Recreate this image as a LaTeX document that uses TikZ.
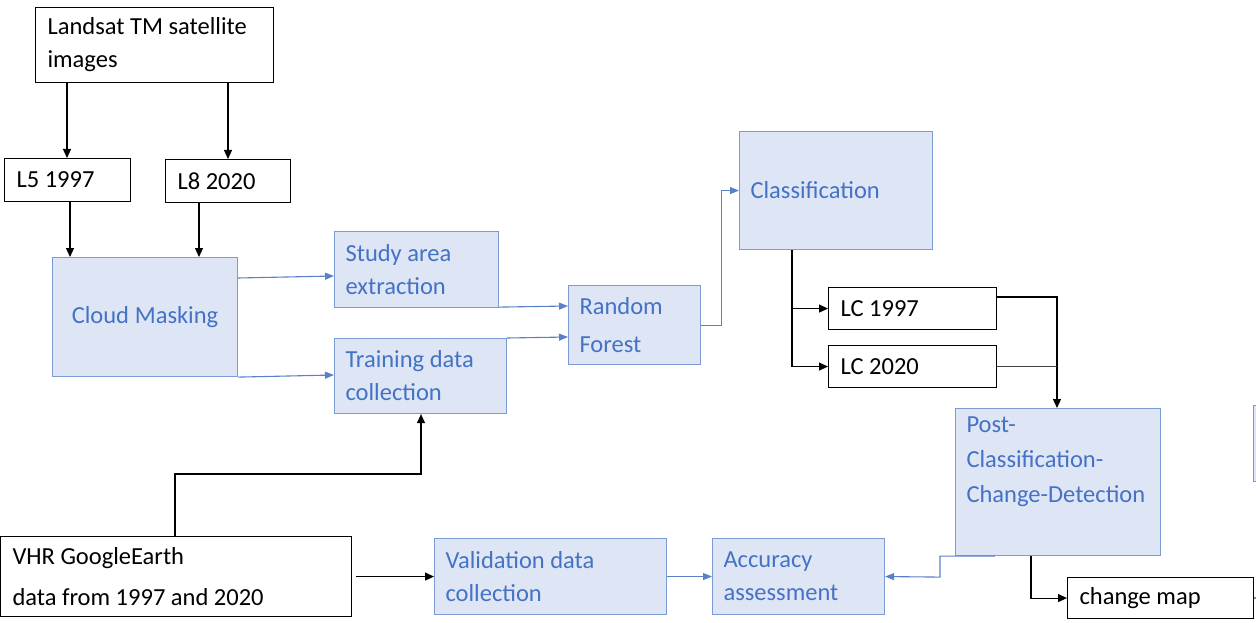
\documentclass[tikz,border=0pt]{standalone}
\usepackage{fontspec}
\setmainfont{Carlito}
\usetikzlibrary{arrows.meta,calc}
\definecolor{bfill}{HTML}{DEE6F5}
\definecolor{bline}{HTML}{7C9BD3}
\definecolor{btext}{HTML}{4472C4}
\definecolor{barrow}{HTML}{5A80C8}
\newcommand{\boxfont}{\fontsize{24.5}{33}\selectfont}
\tikzset{
  tight/.style={execute at begin node={\spaceskip=0.226em plus 0.05em minus 0.05em\relax\xspaceskip=0.226em\relax}},
  wbox/.style={draw=black, line width=1.1pt, fill=white, anchor=north west, inner xsep=12pt, inner ysep=0pt, align=left, font=\boxfont, tight},
  bbox/.style={draw=bline, line width=1.1pt, fill=bfill, text=btext, anchor=north west, inner xsep=11pt, inner ysep=0pt, align=left, font=\boxfont, tight},
  karr/.style={draw=black, line width=1.1pt, -{Triangle[length=9pt,width=8pt]}},
  kline/.style={draw=black!75, line width=1.1pt},
  barr/.style={draw=barrow, line width=1.1pt, -{Triangle[length=9pt,width=7pt]}},
}
\begin{document}
\begin{tikzpicture}[x=1pt,y=-1pt]
\useasboundingbox (0,0) rectangle (1256,623);
\clip (0,0) rectangle (1256,623);
% boxes
\node[wbox, minimum width=238pt, minimum height=75pt, text width=214pt] (land) at (35,7) {Landsat TM satellite\\images};
\node[wbox, minimum width=126pt, minimum height=43pt, text width=102pt] (l5) at (4,158) {L5 1997};
\node[wbox, minimum width=125pt, minimum height=43pt, text width=101pt] (l8) at (165,159) {L8 2020};
\node[bbox, minimum width=185pt, minimum height=119pt, text width=163pt, align=center] (cloud) at (52,257) {Cloud Masking};
\node[bbox, minimum width=164pt, minimum height=76pt, text width=142pt] (study) at (334,231) {Study area\\extraction};
\node[bbox, minimum width=172pt, minimum height=75pt, text width=150pt] (train) at (334,338) {Training data\\collection};
\node[bbox, minimum width=132pt, minimum height=79pt, text width=110pt] (rf) at (568,285) {Random\\[5pt]Forest};
\node[bbox, minimum width=193pt, minimum height=118pt, text width=171pt] (cls) at (739,131) {Classification};
\node[wbox, minimum width=168pt, minimum height=42pt, text width=144pt] (lc97) at (828,287) {LC 1997};
\node[wbox, minimum width=168pt, minimum height=42pt, text width=144pt] (lc20) at (828,345) {LC 2020};
\node[bbox, minimum width=205pt, minimum height=147pt, text width=183pt] (pcd) at (955,408) {Post-\\[2pt]Classification-\\[2pt]Change-Detection\\[2pt]\strut};
\node[wbox, minimum width=186pt, minimum height=41pt, text width=162pt] (cmap) at (1067,577) {change map};
\node[bbox, minimum width=172pt, minimum height=76pt, text width=150pt] (acc) at (712,538) {Accuracy\\assessment};
\node[bbox, minimum width=232pt, minimum height=76pt, text width=210pt] (val) at (434,538) {Validation data\\collection};
\node[wbox, minimum width=351pt, minimum height=80pt, text width=327pt] (vhr) at (0,536) {VHR GoogleEarth\\[8pt]data from 1997 and 2020};
\node[bbox, minimum width=60pt, minimum height=76pt] (side) at (1253,405) {};
\coordinate (cmapout) at (1270,597);
% connectors
\draw[karr] ($(land.south west)+(32,0)$) -- ($(l5.north west)+(63,0)$);
\draw[karr] ($(land.south west)+(193,0)$) -- ($(l8.north west)+(63,0)$);
\draw[karr] ($(l5.south west)+(66,0)$) -- ($(cloud.north west)+(18,0)$);
\draw[karr] ($(l8.south west)+(34,0)$) -- ($(cloud.north west)+(147,0)$);
\draw[barr] ($(cloud.north east)+(0,21)$) -- ($(study.north west)+(0,45)$);
\draw[barr] (cloud.south east) -- ($(train.north west)+(0,37)$);
\draw[barr] ($(study.south east)+(0,-1)$) -- ($(rf.north west)+(0,21)$);
\draw[barr] (train.north east) -- ($(rf.north west)+(0,52)$);
\draw[barr] (rf.east) -- ++(20,0) |- (cls.west);
\coordinate (clsdown) at ($(cls.south west)+(53,0)$);
\draw[karr] (clsdown) |- (lc97.west);
\draw[karr] (clsdown) |- (lc20.west);
\draw[karr] ($(lc97.north east)+(0,10)$) -| ($(pcd.north west)+(102,0)$);
\draw[kline] (lc20.east) -- ($(lc20.east -| pcd.north west)+(102,0)$);
\draw[karr] ($(pcd.south west)+(76,0)$) |- (cmap.west);
\draw[kline] (cmap.east) -- (cmapout);
\draw[barr] ($(pcd.south west)+(40,0)$) -- ++(-55,0) -- ++(0,21) -- (acc.east);
\draw[barr] (val.east) -- (acc.west);
\draw[karr] ($(vhr.east)+(4,0)$) -- (val.west);
\draw[karr] ($(vhr.north west)+(175,0)$) -- ++(0,-62) -| ($(train.south west)+(87,0)$);
\end{tikzpicture}
\end{document}
